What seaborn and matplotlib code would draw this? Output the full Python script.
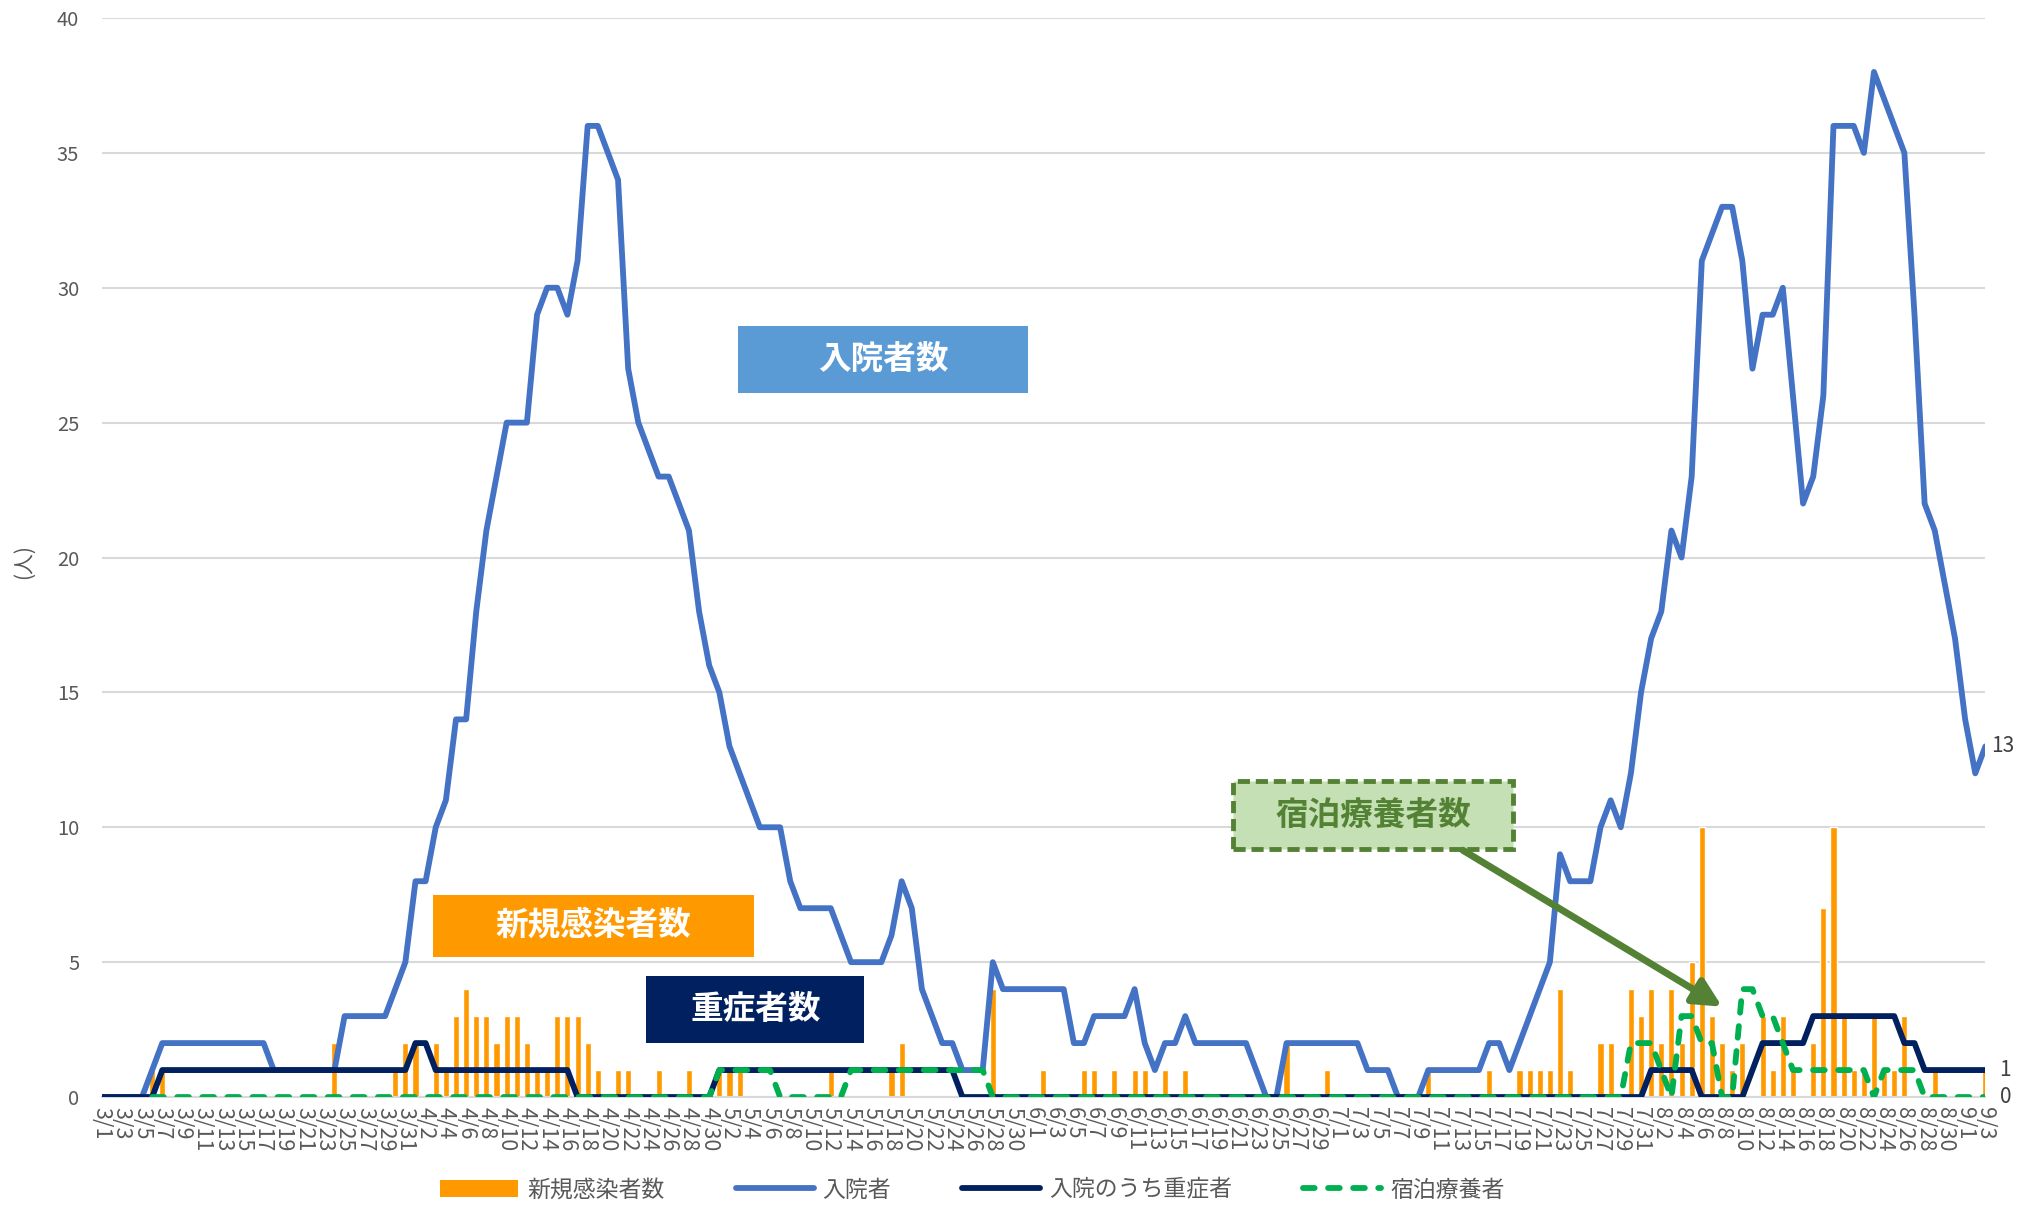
import numpy as np
import pandas as pd
import matplotlib
matplotlib.use("Agg")
import matplotlib.pyplot as plt
from matplotlib.patches import Patch, Rectangle, FancyArrowPatch
from matplotlib.lines import Line2D
import seaborn as sns

# days 3/1 .. 9/3 (2020)
dates = pd.date_range("2020-03-01", "2020-09-03", freq="D")
day_labels = [f"{d.month}/{d.day}" for d in dates]
day_idx = np.arange(len(dates))

# 新規感染者数 (bars), by month
new_mar = [0, 0, 0, 0, 0, 1, 1, 0, 0, 0, 0, 0, 0, 0, 0, 0, 0, 0, 0, 0,
           0, 0, 0, 2, 0, 0, 0, 0, 0, 1, 2]
new_apr = [2, 0, 2, 1, 3, 4, 3, 3, 2, 3, 3, 2, 1, 1, 3, 3, 3, 2, 1, 0,
           1, 1, 0, 0, 1, 0, 0, 1, 0, 0]
new_may = [1, 1, 1, 0, 0, 0, 0, 0, 0, 0, 0, 1, 0, 0, 0, 0, 0, 1, 2, 0,
           0, 0, 0, 0, 0, 0, 0, 4, 0, 0, 0]
new_jun = [0, 1, 0, 0, 0, 1, 1, 0, 1, 0, 1, 1, 0, 1, 0, 1, 0, 0, 0, 0,
           0, 0, 0, 0, 0, 2, 0, 0, 0, 1]
new_jul = [0, 0, 0, 0, 0, 0, 0, 0, 0, 1, 0, 0, 0, 0, 0, 1, 0, 0, 1, 1,
           1, 1, 4, 1, 0, 0, 2, 2, 0, 4, 3]
new_aug = [4, 2, 4, 2, 5, 10, 3, 2, 1, 2, 0, 3, 1, 3, 1, 0, 2, 7, 10, 3,
           1, 1, 3, 1, 1, 3, 0, 0, 1, 0, 0]
new_sep = [0, 0, 1]

# 入院者
hosp_mar = [0, 0, 0, 0, 0, 1, 2, 2, 2, 2, 2, 2, 2, 2, 2, 2, 2, 1, 1, 1,
            1, 1, 1, 1, 3, 3, 3, 3, 3, 4, 5]
hosp_apr = [8, 8, 10, 11, 14, 14, 18, 21, 23, 25, 25, 25, 29, 30, 30, 29, 31, 36, 36, 35,
            34, 27, 25, 24, 23, 23, 22, 21, 18, 16]
hosp_may = [15, 13, 12, 11, 10, 10, 10, 8, 7, 7, 7, 7, 6, 5, 5, 5, 5, 6, 8, 7,
            4, 3, 2, 2, 1, 1, 1, 5, 4, 4, 4]
hosp_jun = [4, 4, 4, 4, 2, 2, 3, 3, 3, 3, 4, 2, 1, 2, 2, 3, 2, 2, 2, 2,
            2, 2, 1, 0, 0, 2, 2, 2, 2, 2]
hosp_jul = [2, 2, 2, 1, 1, 1, 0, 0, 0, 1, 1, 1, 1, 1, 1, 2, 2, 1, 2, 3,
            4, 5, 9, 8, 8, 8, 10, 11, 10, 12, 15]
hosp_aug = [17, 18, 21, 20, 23, 31, 32, 33, 33, 31, 27, 29, 29, 30, 26, 22, 23, 26, 36, 36,
            36, 35, 38, 37, 36, 35, 29, 22, 21, 19, 17]
hosp_sep = [14, 12, 13]

# 入院のうち重症者
severe_mar = [0, 0, 0, 0, 0, 0, 1, 1, 1, 1, 1, 1, 1, 1, 1, 1, 1, 1, 1, 1,
              1, 1, 1, 1, 1, 1, 1, 1, 1, 1, 1]
severe_apr = [2, 2, 1, 1, 1, 1, 1, 1, 1, 1, 1, 1, 1, 1, 1, 1, 0, 0, 0, 0,
              0, 0, 0, 0, 0, 0, 0, 0, 0, 0]
severe_may = [1, 1, 1, 1, 1, 1, 1, 1, 1, 1, 1, 1, 1, 1, 1, 1, 1, 1, 1, 1,
              1, 1, 1, 1, 0, 0, 0, 0, 0, 0, 0]
severe_jun = [0] * 30
severe_jul = [0] * 31
severe_aug = [1, 1, 1, 1, 1, 0, 0, 0, 0, 0, 1, 2, 2, 2, 2, 2, 3, 3, 3, 3,
              3, 3, 3, 3, 3, 2, 2, 1, 1, 1, 1]
severe_sep = [1, 1, 1]

# 宿泊療養者 (no value before 3/6)
hotel_mar = [np.nan] * 5 + [0] * 26
hotel_apr = [0] * 30
hotel_may = [1, 1, 1, 1, 1, 1, 0, 0, 0, 0, 0, 0, 0, 1, 1, 1, 1, 1, 1, 1,
             1, 1, 1, 1, 1, 1, 1, 0, 0, 0, 0]
hotel_jun = [0] * 30
hotel_jul = [0] * 29 + [2, 2]
hotel_aug = [2, 1, 0, 3, 3, 2, 2, 0, 0, 4, 4, 3, 3, 2, 1, 1, 1, 1, 1, 1,
             1, 1, 0, 1, 1, 1, 1, 0, 0, 0, 0]
hotel_sep = [0, 0, 0]

new_cases = new_mar + new_apr + new_may + new_jun + new_jul + new_aug + new_sep
hospital = hosp_mar + hosp_apr + hosp_may + hosp_jun + hosp_jul + hosp_aug + hosp_sep
severe = severe_mar + severe_apr + severe_may + severe_jun + severe_jul + severe_aug + severe_sep
hotel = hotel_mar + hotel_apr + hotel_may + hotel_jun + hotel_jul + hotel_aug + hotel_sep

C_BAR = "#FF9900"
C_HOSP = "#4472C4"
C_SEV = "#002060"
C_HOTEL = "#00B050"
C_GREEN_DARK = "#548235"
C_TEXT = "#595959"
LW = 4.2
DASH = (0, (2.0, 2.3))

sns.set_style("white")
plt.rcParams["font.family"] = ["Noto Sans CJK JP", "DejaVu Sans"]

fig = plt.figure(figsize=(20.22, 12.07), dpi=100)
ax = fig.add_axes([0.0502, 0.0911, 0.9317, 0.8940])

sns.barplot(x=day_idx, y=new_cases, native_scale=True, color=C_BAR, saturation=1,
            width=0.6, errorbar=None, ax=ax, zorder=2)
sns.lineplot(x=day_idx, y=hospital, color=C_HOSP, linewidth=LW, ax=ax, zorder=3,
             solid_joinstyle="round", solid_capstyle="round")
sns.lineplot(x=day_idx, y=severe, color=C_SEV, linewidth=LW, ax=ax, zorder=4,
             solid_joinstyle="round", solid_capstyle="round")
sns.lineplot(x=day_idx, y=hotel, color=C_HOTEL, linewidth=LW, ax=ax, zorder=5,
             linestyle=DASH, dash_capstyle="round", dash_joinstyle="round")

ax.set_xlim(0, 186)
ax.set_ylim(0, 40)
ax.set_yticks(range(0, 41, 5))
ax.set_xticks(day_idx[::2])
ax.set_xticklabels(day_labels[::2], rotation=-90, ha="center", va="top")
ax.set_xticks(day_idx, minor=True)
ax.tick_params(axis="x", which="both", length=6, width=1.3, color="#D9D9D9",
               labelsize=15.5, labelcolor=C_TEXT, pad=1, direction="out")
ax.tick_params(axis="y", length=0, labelsize=14.5, labelcolor=C_TEXT, pad=16)
ax.yaxis.grid(True, color="#D9D9D9", linewidth=1.5)
ax.set_axisbelow(True)
for s in ["top", "right", "left"]:
    ax.spines[s].set_visible(False)
ax.spines["bottom"].set_color("#D9D9D9")
ax.spines["bottom"].set_linewidth(1.5)
ax.set_xlabel("")
ax.set_ylabel("")

fig.text(0.012, 0.535, "(人)", rotation=90, ha="center", va="center",
         fontsize=15, color=C_TEXT)

# end-point labels
ax.text(186.6, hospital[-1], str(hospital[-1]), ha="left", va="center",
        fontsize=15, color="#404040", clip_on=False)
ax.text(187.4, severe[-1], str(severe[-1]), ha="left", va="center",
        fontsize=15, color="#404040", clip_on=False)
ax.text(187.4, hotel[-1], str(int(hotel[-1])), ha="left", va="center",
        fontsize=15, color="#404040", clip_on=False)

# label boxes
def label_box(x0, x1, y0, y1, text, fc, tc, ec=None, ls="-"):
    ax.add_patch(Rectangle((x0, y0), x1 - x0, y1 - y0, facecolor=fc,
                           edgecolor=ec if ec else fc, linewidth=3.5 if ec else 0,
                           linestyle=ls, zorder=6))
    ax.text((x0 + x1) / 2, (y0 + y1) / 2, text, ha="center", va="center",
            fontsize=23.5, fontweight="bold", color=tc, zorder=7)

label_box(62.8, 91.5, 26.1, 28.6, "入院者数", "#5B9BD5", "white")
label_box(32.7, 64.4, 5.2, 7.5, "新規感染者数", C_BAR, "white")
label_box(53.8, 75.3, 2.0, 4.5, "重症者数", C_SEV, "white")
label_box(111.7, 139.4, 9.2, 11.7, "宿泊療養者数", "#C5E0B4", C_GREEN_DARK,
          ec=C_GREEN_DARK, ls=(0, (2.5, 1.2)))

ax.add_patch(FancyArrowPatch((134.4, 9.15), (160.0, 3.35), arrowstyle="-|>",
                             mutation_scale=42, linewidth=5, color=C_GREEN_DARK,
                             zorder=7, shrinkA=0, shrinkB=0))

handles = [
    Patch(facecolor=C_BAR, edgecolor="none", label="新規感染者数"),
    Line2D([], [], color=C_HOSP, linewidth=LW, label="入院者"),
    Line2D([], [], color=C_SEV, linewidth=LW, label="入院のうち重症者"),
    Line2D([], [], color=C_HOTEL, linewidth=LW, linestyle=DASH,
           dash_capstyle="round", label="宿泊療養者"),
]
fig.legend(handles=handles, loc="center", bbox_to_anchor=(0.481, 0.014), ncol=4,
           frameon=False, fontsize=16.5, handlelength=3.4, handleheight=0.8,
           handletextpad=0.4, columnspacing=3.1, labelcolor=C_TEXT)

fig.savefig("out.png", dpi=100)
